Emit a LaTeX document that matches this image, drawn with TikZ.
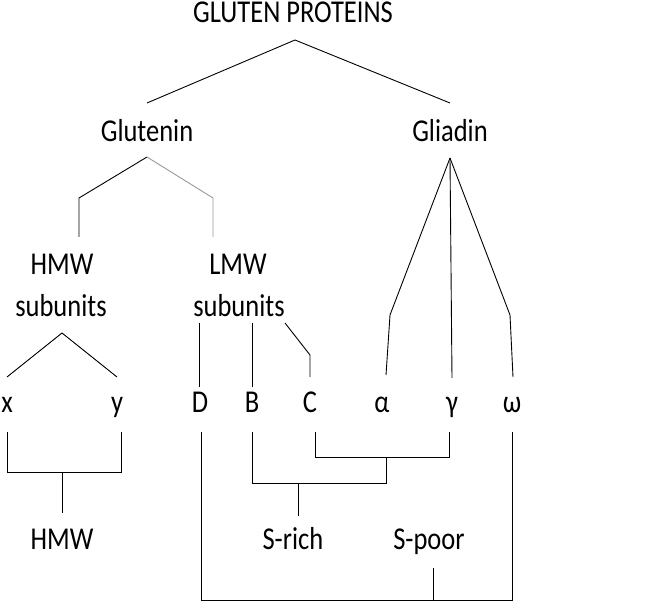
\documentclass[tikz,border=0pt]{standalone}
\usepackage{fontspec}
\usepackage{graphicx}
\setmainfont{Carlito}
\newcommand{\stxt}[1]{\scalebox{1}[1.2]{#1}}
\begin{document}
\begin{tikzpicture}[x=1pt,y=-1pt,
  lbl/.style={inner sep=0pt, anchor=base, font=\fontsize{26.5}{30}\selectfont},
  ln/.style={line width=0.9pt, black},
  lngray/.style={line width=0.9pt, black!40}]
\useasboundingbox (0,0) rectangle (657,604);
% text nodes
\node[lbl] (gp) at (293,23) {\stxt{GLUTEN PROTEINS}};
\node[lbl] (glu) at (147,142) {\stxt{Glutenin}};
\node[lbl] (gli) at (450,142) {\stxt{Gliadin}};
\node[lbl] (hmwa) at (62,275) {\stxt{HMW}};
\node[lbl] (hmwb) at (61,317) {\stxt{subunits}};
\node[lbl] (lmwa) at (238,275) {\stxt{LMW}};
\node[lbl] (lmwb) at (239,317) {\stxt{subunits}};
\node[lbl] (nx) at (7,413) {\stxt{x}};
\node[lbl] (ny) at (117,413) {\stxt{y}};
\node[lbl] (nD) at (200,413) {\stxt{D}};
\node[lbl] (nB) at (252,413) {\stxt{B}};
\node[lbl] (nC) at (310,413) {\stxt{C}};
\node[lbl] (na) at (382,413) {\stxt{α}};
\node[lbl] (ng) at (452,413) {\stxt{γ}};
\node[lbl] (nw) at (512,413) {\stxt{ω}};
\node[lbl] (hmw) at (62,550) {\stxt{HMW}};
\node[lbl] (srich) at (293,550) {\stxt{S-rich}};
\node[lbl] (spoor) at (429,550) {\stxt{S-poor}};
% coordinates
\coordinate (gpA) at (295,40);
\coordinate (gpL) at (147,103);
\coordinate (gpR) at (450,103);
\coordinate (gluA) at (147,157);
\coordinate (gluL1) at (79,198);
\coordinate (gluL2) at (79,237);
\coordinate (gluR1) at (213,198);
\coordinate (gluR2) at (213,237);
\coordinate (gliA) at (450,158);
\coordinate (gliA1) at (390,315);
\coordinate (gliA2) at (386,375);
\coordinate (gliG) at (452,378);
\coordinate (gliW1) at (510,315);
\coordinate (gliW2) at (513,377);
\coordinate (hA) at (62,333);
\coordinate (hL) at (7,377);
\coordinate (hR) at (117,377);
\coordinate (dT) at (199,323);
\coordinate (dB) at (199,387);
\coordinate (bT) at (252,323);
\coordinate (bB) at (252,387);
\coordinate (cT) at (285,323);
\coordinate (cM) at (310,355);
\coordinate (cB) at (310,377);
% bottom coordinates
\coordinate (xT) at (7,432);
\coordinate (xB) at (7,472);
\coordinate (yB) at (121,472);
\coordinate (yT) at (121,432);
\coordinate (hmwT) at (62,472);
\coordinate (hmwB) at (62,513);
\coordinate (DT) at (201,432);
\coordinate (DB) at (201,600);
\coordinate (WB) at (512,600);
\coordinate (WT) at (512,432);
\coordinate (spT) at (433,568);
\coordinate (spB) at (433,600);
\coordinate (BT) at (252,432);
\coordinate (BB) at (252,483);
\coordinate (BCB) at (386,483);
\coordinate (BCT) at (386,457);
\coordinate (CT) at (315,432);
\coordinate (CB) at (315,457);
\coordinate (GB) at (449,457);
\coordinate (GT) at (449,432);
\coordinate (srT) at (298,483);
\coordinate (srB) at (298,516);
% connectors
\draw[ln] (gpL) -- (gpA) -- (gpR);
\draw[ln] (gluL2) -- (gluL1) -- (gluA);
\draw[lngray] (gluA) -- (gluR1) -- (gluR2);
\draw[ln] (gliA) -- (gliA1) -- (gliA2);
\draw[ln] (gliA) -- (gliG);
\draw[ln] (gliA) -- (gliW1) -- (gliW2);
\draw[ln] (hL) -- (hA) -- (hR);
\draw[ln] (dT) -- (dB);
\draw[ln] (bT) -- (bB);
\draw[ln] (cT) -- (cM) -- (cB);
\draw[ln] (xT) -- (xB) -- (yB) -- (yT);
\draw[ln] (hmwT) -- (hmwB);
\draw[ln] (DT) -- (DB) -- (WB) -- (WT);
\draw[ln] (spT) -- (spB);
\draw[ln] (BT) -- (BB) -- (BCB) -- (BCT);
\draw[ln] (CT) -- (CB) -- (GB) -- (GT);
\draw[ln] (srT) -- (srB);
\end{tikzpicture}
\end{document}
